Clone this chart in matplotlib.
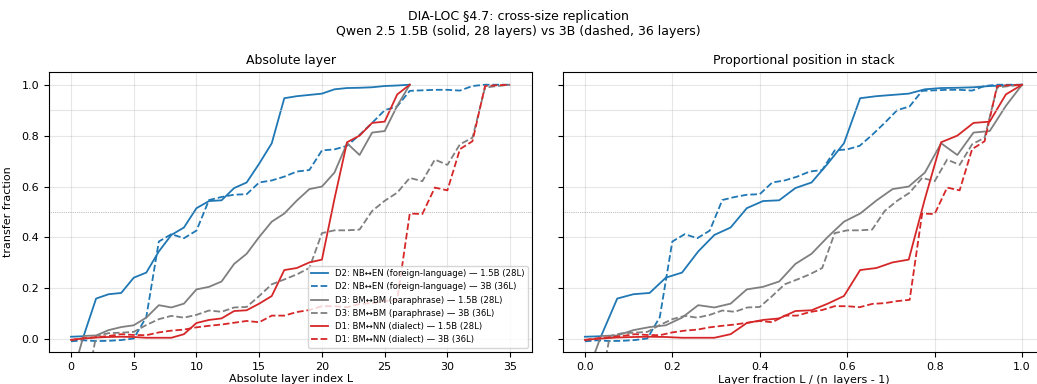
import numpy as np
import matplotlib
matplotlib.use("Agg")
import matplotlib.pyplot as plt

# transfer fraction per layer
d2_small = [0.010, 0.012, 0.160, 0.177, 0.182, 0.242, 0.262, 0.345, 0.410, 0.439,
            0.515, 0.543, 0.546, 0.594, 0.616, 0.690, 0.770, 0.947, 0.955, 0.960,
            0.965, 0.982, 0.987, 0.988, 0.990, 0.995, 0.997, 1.000]
d2_large = [-0.008, -0.004, -0.007, -0.006, -0.003, 0.003, 0.087, 0.384, 0.413, 0.397,
            0.427, 0.547, 0.559, 0.568, 0.570, 0.616, 0.624, 0.639, 0.659, 0.665,
            0.742, 0.746, 0.760, 0.803, 0.850, 0.900, 0.915, 0.976, 0.978, 0.980,
            0.980, 0.977, 0.995, 1.000, 1.000, 1.000]
d3_small = [-0.160, 0.013, 0.015, 0.036, 0.048, 0.055, 0.085, 0.134, 0.125, 0.140,
            0.196, 0.206, 0.227, 0.296, 0.336, 0.402, 0.462, 0.494, 0.545, 0.590,
            0.600, 0.655, 0.770, 0.724, 0.812, 0.818, 0.917, 1.000]
d3_large = [-0.300, -0.250, 0.013, 0.024, 0.026, 0.029, 0.056, 0.079, 0.092, 0.085,
            0.096, 0.113, 0.108, 0.125, 0.127, 0.170, 0.216, 0.235, 0.255, 0.280,
            0.417, 0.428, 0.428, 0.431, 0.504, 0.544, 0.576, 0.634, 0.621, 0.706,
            0.685, 0.766, 0.792, 0.989, 0.995, 1.000]
d1_small = [-0.002, 0.003, 0.007, 0.009, 0.010, 0.009, 0.006, 0.006, 0.006, 0.020,
            0.064, 0.076, 0.082, 0.111, 0.114, 0.140, 0.170, 0.272, 0.280, 0.302,
            0.313, 0.552, 0.774, 0.800, 0.850, 0.855, 0.962, 1.000]
d1_large = [-0.003, 0.004, 0.008, 0.013, 0.020, 0.017, 0.016, 0.027, 0.034, 0.038,
            0.047, 0.053, 0.058, 0.065, 0.072, 0.067, 0.093, 0.093, 0.107, 0.115,
            0.130, 0.130, 0.126, 0.139, 0.142, 0.150, 0.155, 0.494, 0.492, 0.596,
            0.585, 0.747, 0.778, 0.995, 0.998, 1.000]

series = [
    ("D2: NB\u2194EN (foreign-language)", "tab:blue", d2_small, d2_large),
    ("D3: BM\u2194BM (paraphrase)", "tab:gray", d3_small, d3_large),
    ("D1: BM\u2194NN (dialect)", "tab:red", d1_small, d1_large),
]

plt.rcParams["font.size"] = 8

fig = plt.figure(figsize=(10.37, 3.84), dpi=100)
ax_abs = fig.add_axes([0.0473, 0.0833, 0.4658, 0.7292])
ax_rel = fig.add_axes([0.5429, 0.0833, 0.4638, 0.7292], sharey=ax_abs)

for name, color, small, large in series:
    for vals, ls, tag in [(small, "-", "1.5B (28L)"), (large, "--", "3B (36L)")]:
        layers = np.arange(len(vals))
        label = f"{name} \u2014 {tag}"
        ax_abs.plot(layers, vals, ls=ls, color=color, lw=1.3, label=label)
        ax_rel.plot(layers / (len(vals) - 1), vals, ls=ls, color=color, lw=1.3)

for ax in (ax_abs, ax_rel):
    ax.axhline(0.5, color="gray", lw=0.5, ls=":")
    ax.axhline(0.9, color="lightgray", lw=0.8, alpha=0.6)
    ax.grid(alpha=0.3)
    ax.set_ylim(-0.05, 1.05)

ax_abs.set_xlim(-1.75, 36.75)
ax_rel.set_xlim(-0.05, 1.05)
plt.setp(ax_rel.get_yticklabels(), visible=False)

ax_abs.set_title("Absolute layer", fontsize=9)
ax_rel.set_title("Proportional position in stack", fontsize=9)
ax_abs.set_xlabel("Absolute layer index L", labelpad=1.5)
ax_rel.set_xlabel("Layer fraction L / (n_layers - 1)", labelpad=1.5)
ax_abs.set_ylabel("transfer fraction", labelpad=6)
ax_abs.legend(loc="lower right", fontsize=6.1)

fig.suptitle("DIA-LOC \u00a74.7: cross-size replication\n"
             "Qwen 2.5 1.5B (solid, 28 layers) vs 3B (dashed, 36 layers)",
             fontsize=9, y=0.975)

fig.savefig("out.png", dpi=100)
